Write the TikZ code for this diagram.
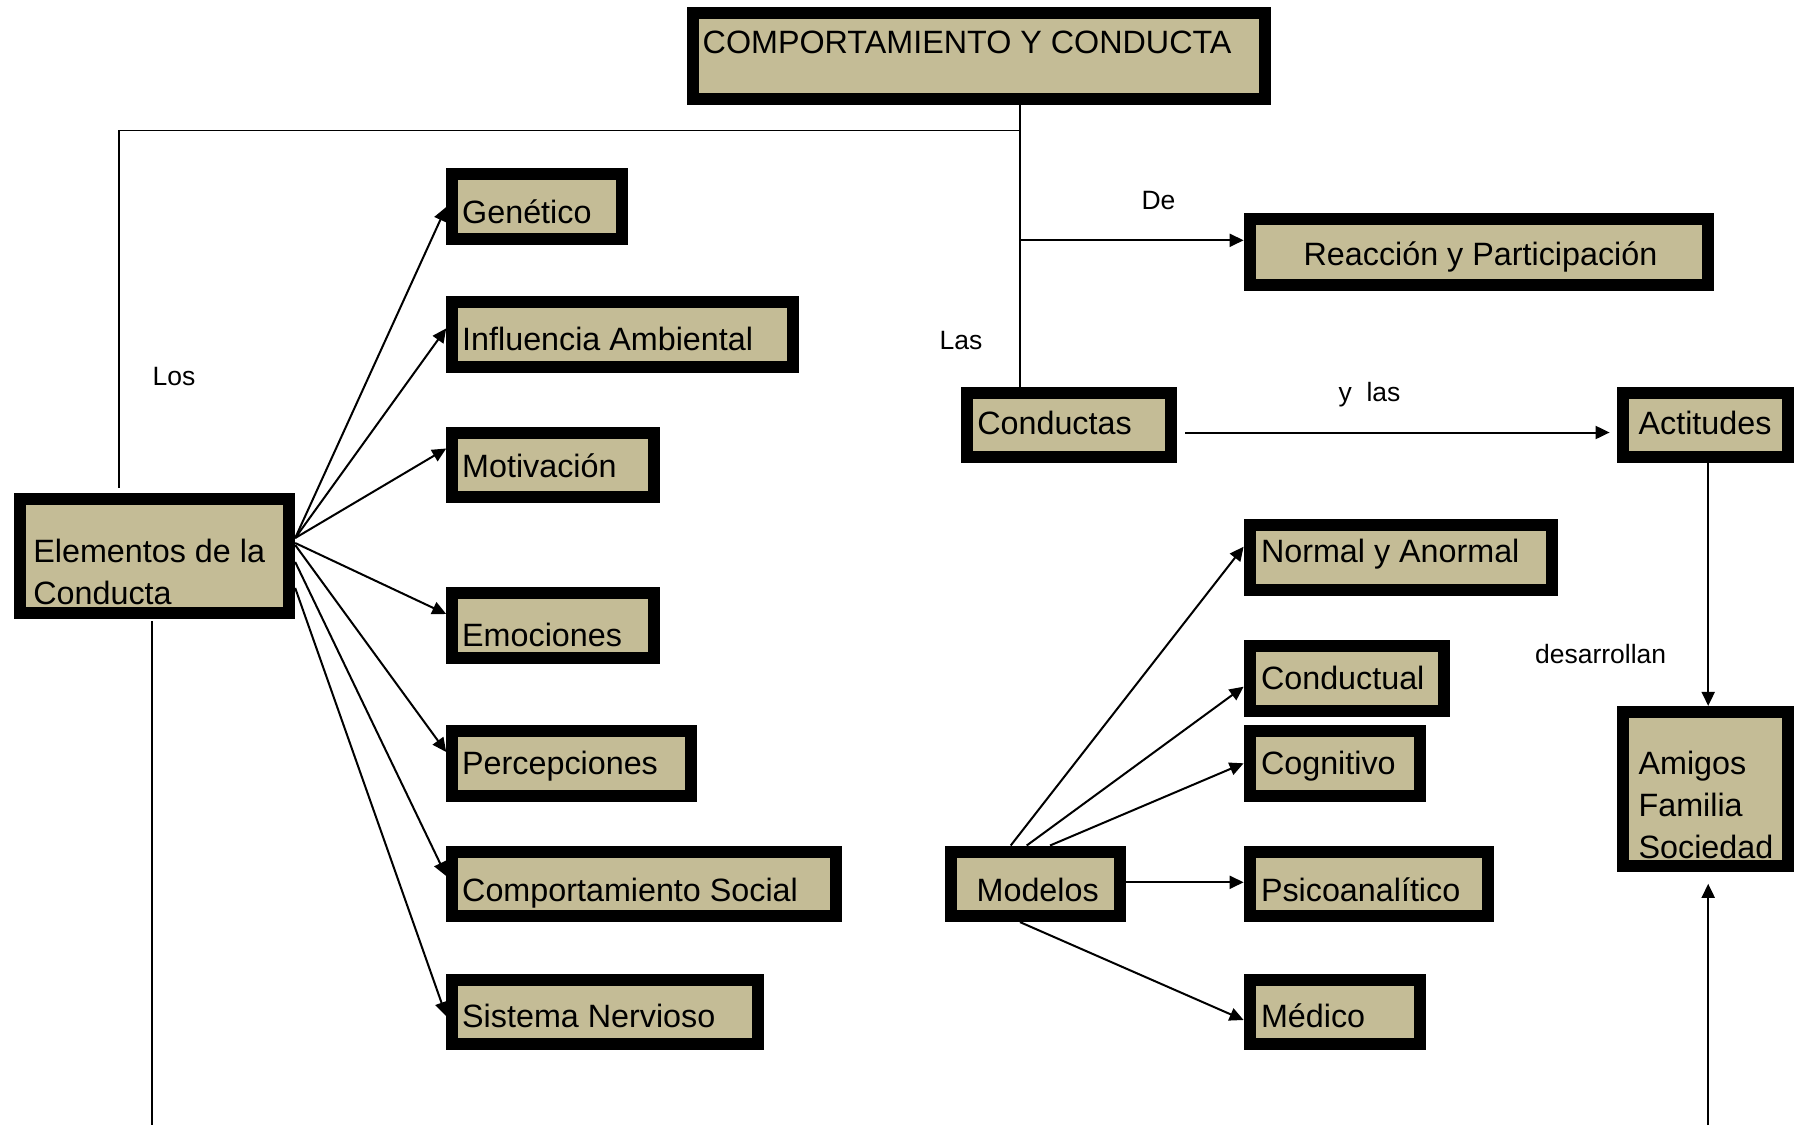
\documentclass[tikz,border=0pt]{standalone}
\usepackage{fontspec}
\setmainfont{Liberation Sans}
\usetikzlibrary{arrows.meta}
\definecolor{boxfill}{RGB}{196,188,150}
\newcommand\mybox[5]{\node[box, minimum width={#4-#2-12}, minimum height={#5-#3-12}] (#1) at ({(#2+#4)/2},{(#3+#5)/2}) {};}
\begin{document}
\begin{tikzpicture}[x=1pt,y=-1pt,
 box/.style={draw=black, line width=12pt, fill=boxfill, inner sep=0pt, outer sep=6pt, rectangle},
 txt/.style={inner sep=0pt, font=\fontsize{32.3}{38}\selectfont},
 lbl/.style={inner sep=0pt, font=\fontsize{26.5}{31}\selectfont},
 arr/.style={line width=2pt, -{Triangle[length=14pt,width=13pt]}},
 ln/.style={line width=1.6pt}]
\useasboundingbox (0,0) rectangle (1794,1125);

% boxes
\mybox{top}{686.5}{6.9}{1271.1}{105.3}
\mybox{gen}{446.2}{168.2}{628.1}{244.8}
\mybox{inf}{446.2}{296.3}{798.6}{373.0}
\mybox{mot}{446.2}{426.7}{660.1}{503.4}
\mybox{emo}{446.2}{586.9}{660.1}{663.6}
\mybox{per}{446.2}{725.4}{696.8}{802.0}
\mybox{com}{446.2}{845.5}{842.1}{922.1}
\mybox{sis}{446.2}{973.6}{764.3}{1050.3}
\mybox{ele}{13.7}{493.1}{295.2}{619.0}
\mybox{cond}{961.0}{386.7}{1177.3}{463.4}
\mybox{rea}{1243.6}{212.8}{1713.9}{290.6}
\mybox{act}{1616.6}{386.7}{1794}{463.4}
\mybox{nor}{1243.6}{519.4}{1558.3}{596.1}
\mybox{cdl}{1243.6}{639.6}{1449.6}{717.4}
\mybox{cog}{1243.6}{725.4}{1425.6}{802.0}
\mybox{psi}{1243.6}{845.5}{1494.2}{922.1}
\mybox{med}{1243.6}{973.6}{1425.6}{1050.3}
\mybox{mod}{945.0}{845.5}{1125.8}{922.1}
\mybox{ami}{1616.6}{705.9}{1794}{871.8}

% texts
\node[txt, anchor=base west] (top-t) at (702.5,53.3) {COMPORTAMIENTO Y CONDUCTA};
\node[txt, anchor=base west] (gen-t) at (462,223.8) {Genético};
\node[txt, anchor=base west] (inf-t) at (462,350.8) {Influencia Ambiental};
\node[txt, anchor=base west] (mot-t) at (462,477.8) {Motivación};
\node[txt, anchor=base west] (emo-t) at (462,646) {Emociones};
\node[txt, anchor=base west] (per-t) at (462,774) {Percepciones};
\node[txt, anchor=base west] (com-t) at (462,901) {Comportamiento Social};
\node[txt, anchor=base west] (sis-t) at (462,1027) {Sistema Nervioso};
\node[txt, anchor=base west] (ele-t1) at (33.2,562.5) {Elementos de la};
\node[txt, anchor=base west] (ele-t2) at (33.2,604.8) {Conducta};
\node[txt, anchor=base west] (cond-t) at (977.1,434.3) {Conductas};
\node[txt, anchor=base] (rea-t) at (1480.5,265) {Reacción y Participación};
\node[txt, anchor=base west] (act-t) at (1638.4,434.3) {Actitudes};
\node[txt, anchor=base west] (nor-t) at (1260.8,562.5) {Normal y Anormal};
\node[txt, anchor=base west] (cdl-t) at (1260.8,689.5) {Conductual};
\node[txt, anchor=base west] (cog-t) at (1260.8,774.1) {Cognitivo};
\node[txt, anchor=base west] (psi-t) at (1260.8,901.1) {Psicoanalítico};
\node[txt, anchor=base west] (med-t) at (1260.8,1027) {Médico};
\node[txt, anchor=base] (mod-t) at (1037.7,901.1) {Modelos};
\node[txt, anchor=base west] (ami-t1) at (1638.4,774.1) {Amigos};
\node[txt, anchor=base west] (ami-t2) at (1638.4,816.4) {Familia};
\node[txt, anchor=base west] (ami-t3) at (1638.4,858.8) {Sociedad};

% labels
\node[lbl] (l-de) at (1158.5,201) {De};
\node[lbl] (l-las) at (961,341) {Las};
\node[lbl] (l-los) at (173.9,376.4) {Los};
\node[lbl] (l-ylas) at (1369.5,394.7) {y\ \ las};
\node[lbl] (l-des) at (1600.6,654.4) {desarrollan};

% trunk connectors
\coordinate (jT) at (1020,130.4);
\coordinate (jL) at (119,130.4);
\coordinate (jR) at (1020,240.3);
\draw[ln] (top.south -| jT) -- (cond.north -| jT);
\draw[ln, shorten >=5pt] (jT) -- (jL) -- (ele.north -| jL);
\draw[arr] (jR) -- (jR -| rea.west);
\draw[arr, shorten <=8pt, shorten >=7pt] (cond.east |- 0,432.5) -- (act.west |- 0,432.5);
\coordinate (aX) at (1708.2,0);
\draw[arr] (act.south -| aX) -- (ami.north -| aX);
\coordinate (bR) at (1708.2,1125);
\draw[arr, shorten >=12pt] (bR) -- (ami.south -| bR);
\coordinate (bL) at (151.7,1125);
\draw[ln, shorten <=2pt] (ele.south -| bL) -- (bL);

% elementos fan
\draw[arr] (ele.east |- 0,538) -- (gen.west |- 0,207);
\draw[arr] (ele.east |- 0,538) -- (inf.west |- 0,328.4);
\draw[arr] (ele.east |- 0,538) -- (mot.west |- 0,448.5);
\draw[arr] (ele.east |- 0,543) -- (emo.west |- 0,614);
\draw[arr] (ele.east |- 0,545) -- (per.west |- 0,752);
\draw[arr] (ele.east |- 0,562) -- (com.west |- 0,876);
\draw[arr] (ele.east |- 0,588) -- (sis.west |- 0,1016);

% modelos fan
\draw[arr] (mod.north -| 1010.7,0) -- (nor.west |- 0,546.7);
\draw[arr] (mod.north -| 1026.7,0) -- (cdl.west |- 0,686.7);
\draw[arr] (mod.north -| 1050,0) -- (cog.west |- 0,763.3);
\draw[arr] (mod.east |- 0,882.3) -- (psi.west |- 0,882.3);
\draw[arr] (mod.south -| 1020,0) -- (med.west |- 0,1020);
\end{tikzpicture}
\end{document}
